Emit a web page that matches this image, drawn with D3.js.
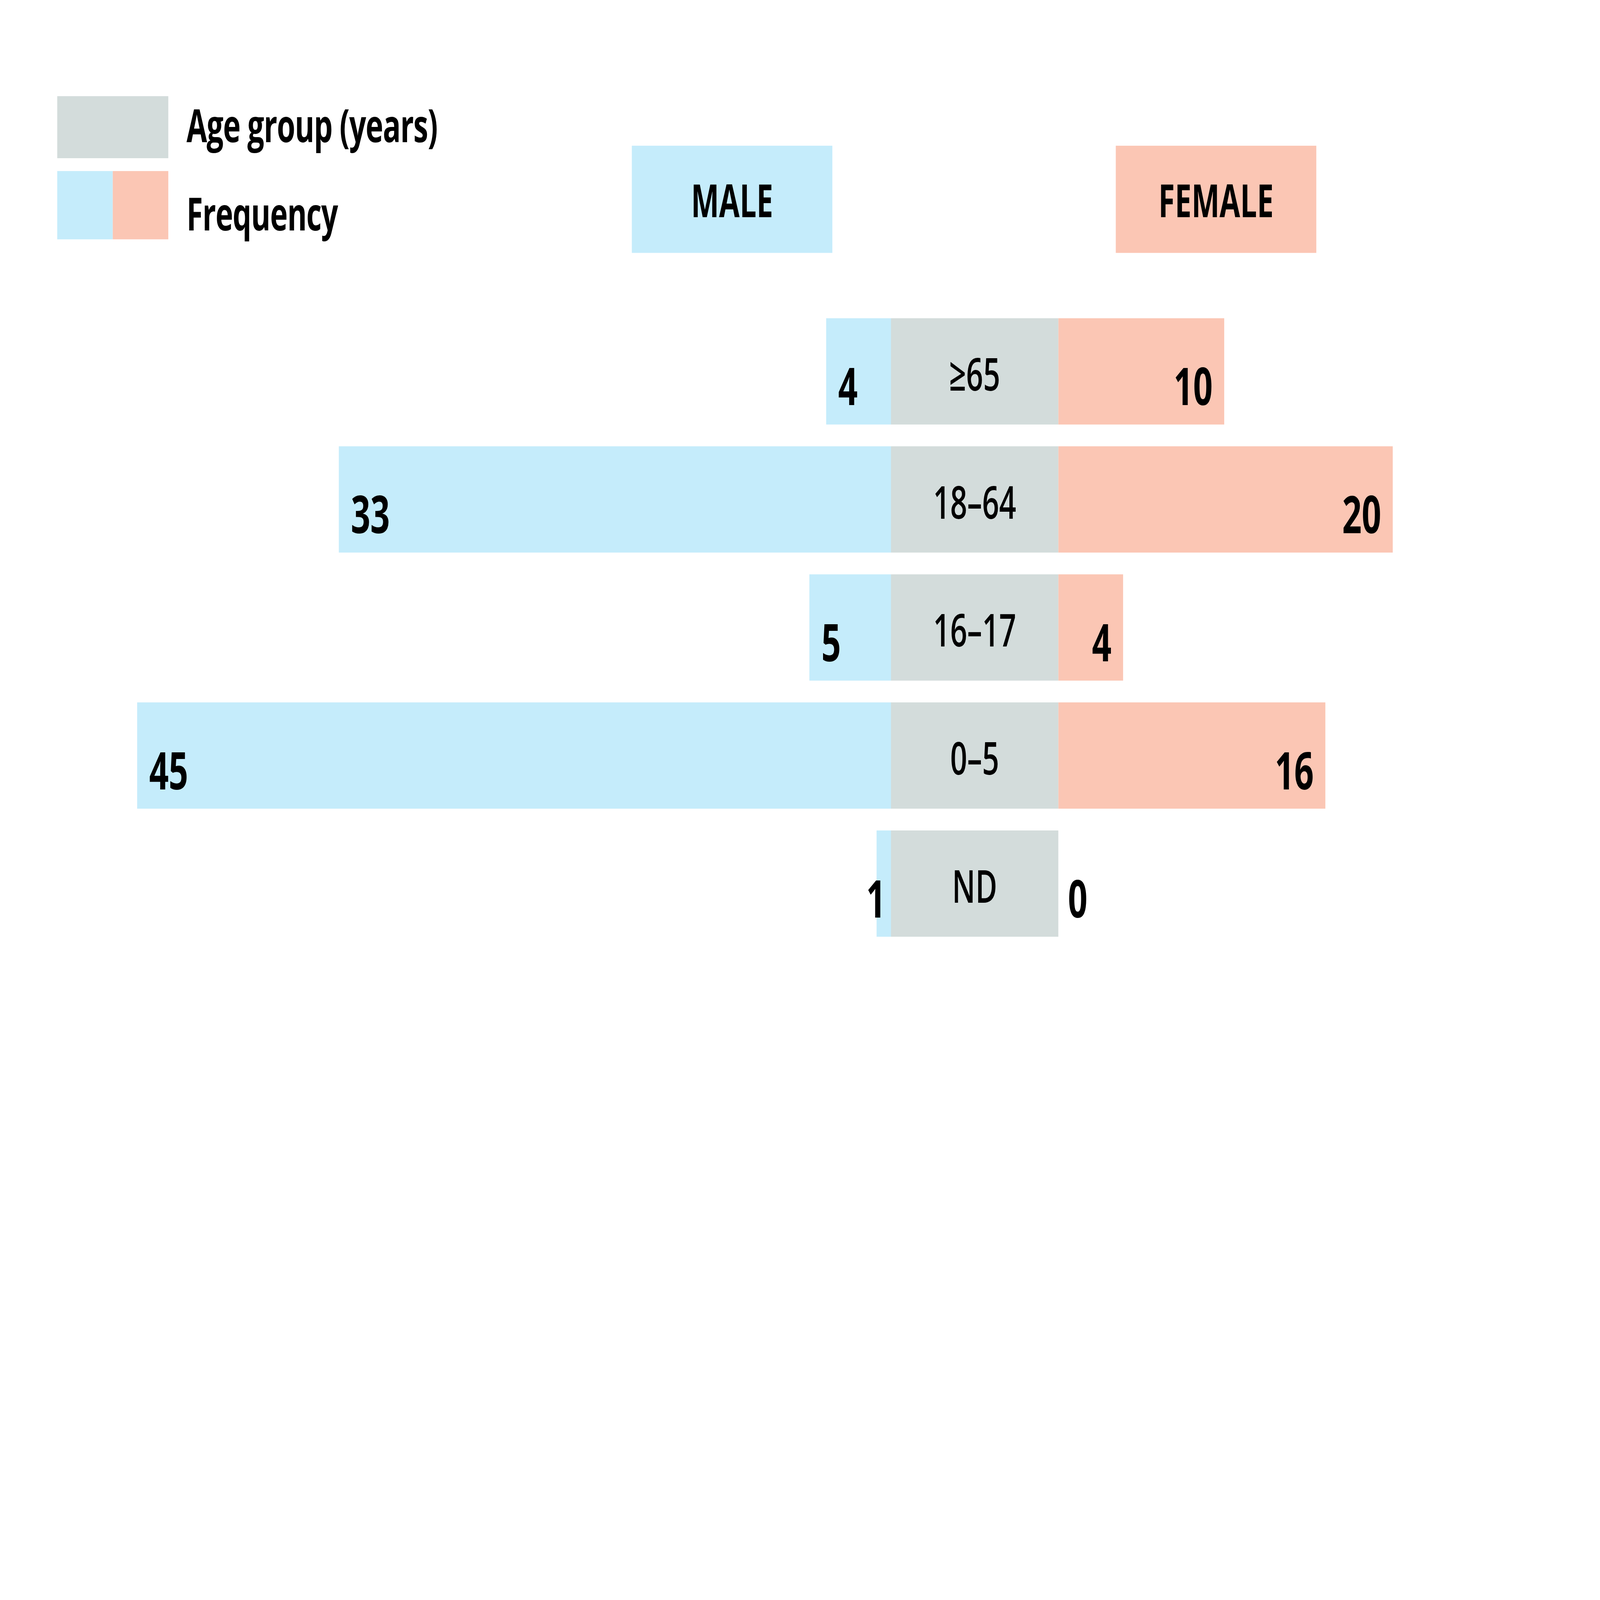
<!DOCTYPE html>
<html>
<head>
<meta charset="utf-8">
<title>Age group by sex</title>
<script src="https://cdnjs.cloudflare.com/ajax/libs/d3/7.8.5/d3.min.js"></script>
<style>
  html, body { margin: 0; padding: 0; background: #fff; overflow: hidden; }
  svg { display: block; }
  text { font-family: "Open Sans", sans-serif; fill: #000; }
</style>
</head>
<body>
<div id="chart"></div>
<script type="text/javascript">

  // data
  var ageGroups = ["≥65", "18–64", "16–17", "0–5", "ND"];
  var maleCounts = [4, 33, 5, 45, 1];
  var femaleCounts = [10, 20, 4, 16, 0];
  var sexLabels = ["MALE", "FEMALE"];
  var legendLabels = ["Age group (years)", "Frequency"];

  var W = 6655, H = 4359;
  var blue = "#c5ecfb", pink = "#fbc6b4", grey = "#d3dcdb";

  /* drawn in a 6655 x 4359 box, stretched to whatever window we get */
  var svg = d3.select("#chart").append("svg")
      .attr("viewBox", "0 0 " + W + " " + H)
      .attr("width", window.innerWidth)
      .attr("height", window.innerHeight)
      .attr("preserveAspectRatio", "none");

  svg.append("rect").attr("width", W).attr("height", H).attr("fill", "#fff");

  /* centre column holding the age group names */
  var midLeft = 3706, midRight = 4402;

  var y = d3.scaleBand()
      .domain(ageGroups)
      .range([867, 2552])
      .paddingInner(0.17);

  // bars start a little under the grey column
  var xMale = d3.scaleLinear().domain([0, 45]).range([midLeft + 10, midLeft + 10 - 45 * 69.9]);
  var xFemale = d3.scaleLinear().domain([0, 20]).range([midRight - 11, midRight - 11 + 20 * 70.1]);

  var rows = ageGroups.map(function(g, i) {
    return { group: g, male: maleCounts[i], female: femaleCounts[i] };
  });

  var row = svg.append("g").selectAll("g")
      .data(rows)
      .enter().append("g")
      .attr("transform", function(d) { return "translate(0," + y(d.group) + ")"; });

  row.append("rect")
      .attr("x", function(d) { return xMale(d.male); })
      .attr("width", function(d) { return d.male > 0 ? midLeft - xMale(d.male) : 0; })
      .attr("height", y.bandwidth())
      .attr("fill", blue);

  row.append("rect")
      .attr("x", midRight)
      .attr("width", function(d) { return d.female > 0 ? xFemale(d.female) - midRight : 0; })
      .attr("height", y.bandwidth())
      .attr("fill", pink);

  row.append("rect")
      .attr("x", midLeft)
      .attr("width", midRight - midLeft)
      .attr("height", y.bandwidth())
      .attr("fill", grey);

  row.append("text")
      .attr("x", (midLeft + midRight) / 2)
      .attr("y", 197)
      .attr("text-anchor", "middle")
      .style("font-size", "124px")
      .style("font-weight", 600)
      .text(function(d) { return d.group; });

  /* value labels: inside the bar when it fits, else next to it */
  row.append("text")
      .attr("x", function(d) {
        return (midLeft - xMale(d.male)) > 150 ? xMale(d.male) + 50 : midLeft - 22;
      })
      .attr("y", 237)
      .attr("text-anchor", function(d) {
        return (midLeft - xMale(d.male)) > 150 ? "start" : "end";
      })
      .style("font-size", "142px")
      .style("font-weight", 700)
      .text(function(d) { return d.male; });

  row.append("text")
      .attr("x", function(d) {
        return d.female > 0 ? xFemale(d.female) - 48 : midRight + 40;
      })
      .attr("y", 237)
      .attr("text-anchor", function(d) { return d.female > 0 ? "end" : "start"; })
      .style("font-size", "142px")
      .style("font-weight", 700)
      .text(function(d) { return d.female; });

  /* MALE / FEMALE header boxes */
  var heads = [
    { label: sexLabels[0], x: 2628, fill: blue },
    { label: sexLabels[1], x: 4641, fill: pink }
  ];
  var head = svg.append("g").selectAll("g")
      .data(heads)
      .enter().append("g")
      .attr("transform", function(d) { return "translate(" + d.x + ",397)"; });
  head.append("rect")
      .attr("width", 834).attr("height", 292)
      .attr("fill", function(d) { return d.fill; });
  head.append("text")
      .attr("x", 417).attr("y", 195)
      .attr("text-anchor", "middle")
      .style("font-size", "124px")
      .style("font-weight", 700)
      .text(function(d) { return d.label; });

  /* legend */
  var lg = svg.append("g");
  lg.append("rect").attr("x", 238).attr("y", 262).attr("width", 462).attr("height", 169).attr("fill", grey);
  lg.append("rect").attr("x", 238).attr("y", 466).attr("width", 231).attr("height", 186).attr("fill", blue);
  lg.append("rect").attr("x", 469).attr("y", 466).attr("width", 231).attr("height", 186).attr("fill", pink);
  lg.append("text").attr("x", 776).attr("y", 387)
      .style("font-size", "124px").style("font-weight", 700)
      .style("letter-spacing", "-2px")
      .text(legendLabels[0]);
  lg.append("text").attr("x", 776).attr("y", 628)
      .style("font-size", "124px").style("font-weight", 700)
      .style("letter-spacing", "-2px")
      .text(legendLabels[1]);

</script>
</body>
</html>
